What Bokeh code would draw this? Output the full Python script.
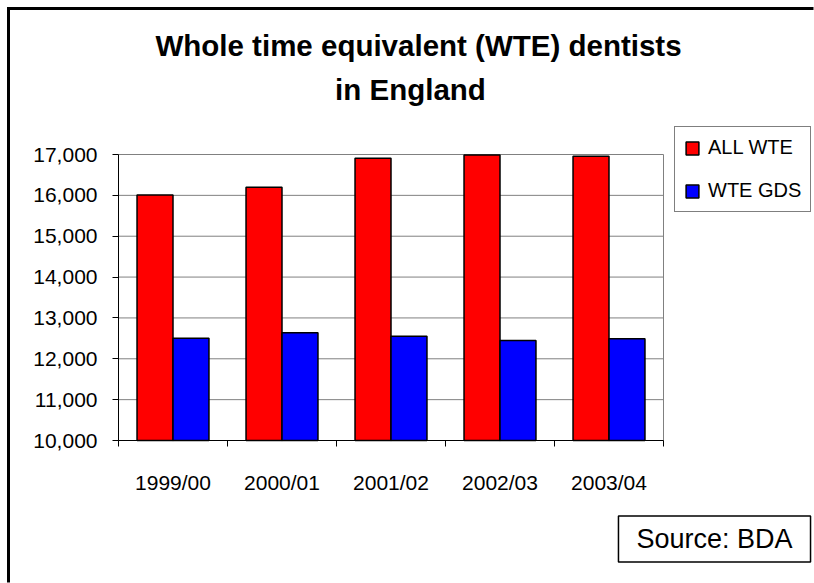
from bokeh.plotting import figure
from bokeh.models import (ColumnDataSource, FixedTicker, NumeralTickFormatter,
                          Legend, LegendItem, Label, Range1d)
from bokeh.embed import file_html
from bokeh.resources import INLINE

categories = ["1999/00", "2000/01", "2001/02", "2002/03", "2003/04"]
all_wte = [16010, 16200, 16910, 16990, 16960]
wte_gds = [12500, 12640, 12550, 12450, 12490]
y_ticks = [10000, 11000, 12000, 13000, 14000, 15000, 16000, 17000]

FONT = "Liberation Sans"
W, H = 814, 583
# plot area on the canvas (pixels)
PL, PR, PT, PB = 118, 663, 154, 440
YMIN, YMAX = 10000, 17000
n = len(categories)
px_x = (PR - PL) / n
px_y = (PB - PT) / (YMAX - YMIN)


def sx(cx):
    """canvas pixel x -> data x"""
    return (cx - PL) / px_x


def sy(cy):
    """canvas pixel y (from top) -> data y"""
    return YMAX + (PT - cy) / px_y


idx = list(range(n))
src = ColumnDataSource(dict(
    x_red=[i + 0.5 - 0.165 for i in idx],
    x_blue=[i + 0.5 + 0.165 for i in idx],
    all_wte=all_wte, wte_gds=wte_gds,
))

p = figure(width=W, height=H, output_backend="svg", toolbar_location=None,
           x_range=Range1d(sx(0), sx(W)), y_range=Range1d(sy(H), sy(0)),
           min_border=0, background_fill_color="white",
           border_fill_color="white", outline_line_color=None)
p.title = None
p.xgrid.grid_line_color = None
p.ygrid.grid_line_color = None

# outer border (left and top edges; right/bottom run off the page)
p.line(x=[sx(8), sx(8), sx(W - 1)], y=[sy(H - 1), sy(8), sy(8)],
       line_color="#000000", line_width=3, line_join="miter")

# gridlines and plot-area edge
p.segment(x0=0, x1=n, y0=y_ticks, y1=y_ticks, line_color="#808080", line_width=1)
p.segment(x0=n, x1=n, y0=YMIN, y1=YMAX, line_color="#808080", line_width=1)

r1 = p.vbar(x="x_red", top="all_wte", bottom=YMIN, width=0.33, source=src,
            fill_color="#ff0000", line_color="black", line_width=1.5)
r2 = p.vbar(x="x_blue", top="wte_gds", bottom=YMIN, width=0.33, source=src,
            fill_color="#0000ff", line_color="black", line_width=1.5)

# y axis
ya = p.yaxis[0]
ya.fixed_location = 0
ya.bounds = (YMIN, YMAX)
ya.ticker = FixedTicker(ticks=y_ticks)
ya.formatter = NumeralTickFormatter(format="0,0")
ya.major_label_text_font = FONT
ya.major_label_text_font_size = "21px"
ya.major_label_text_color = "black"
ya.major_tick_out = 6
ya.major_tick_in = 0
ya.minor_tick_out = 0
ya.minor_tick_in = 0
ya.major_label_standoff = 15
ya.axis_line_color = "black"
ya.major_tick_line_color = "black"

# x axis: labels at centres, ticks at category boundaries
xa = p.xaxis[0]
xa.fixed_location = YMIN
xa.bounds = (0, n)
xa.ticker = FixedTicker(ticks=[i + 0.5 for i in idx],
                        minor_ticks=list(range(n + 1)))
xa.major_label_overrides = {i + 0.5: c for i, c in zip(idx, categories)}
xa.major_label_text_font = FONT
xa.major_label_text_font_size = "21px"
xa.major_label_text_color = "black"
xa.major_tick_out = 0
xa.major_tick_in = 0
xa.minor_tick_out = 6
xa.minor_tick_in = 0
xa.minor_tick_line_color = "black"
xa.major_label_standoff = 24
xa.axis_line_color = "black"

# legend
legend = Legend(items=[LegendItem(label="ALL WTE", renderers=[r1]),
                       LegendItem(label="WTE GDS", renderers=[r2])],
                location=(674, H - 212), orientation="vertical",
                label_text_font=FONT, label_text_font_size="20px",
                label_text_color="black", glyph_width=16, glyph_height=16,
                label_height=20, label_width=89, label_standoff=8,
                spacing=20, padding=9, margin=0,
                border_line_color="black", border_line_width=1,
                background_fill_color="white", background_fill_alpha=1)
p.add_layout(legend, "center")

# title lines
for txt, cx, cy in [("Whole time equivalent (WTE) dentists", 418, 45),
                    ("in England", 410, 89)]:
    p.add_layout(Label(x=cx, y=H - cy, x_units="screen", y_units="screen",
                       text=txt, text_font=FONT, text_font_style="bold",
                       text_font_size="29.5px", text_color="black",
                       text_align="center", text_baseline="alphabetic"))

# source box
p.add_layout(Label(x=714, y=H - 538.5, x_units="screen", y_units="screen",
                   text="Source: BDA", text_font=FONT, text_font_size="27px",
                   text_color="black", text_align="center", text_baseline="middle",
                   background_fill_color="white", border_line_color="black",
                   border_line_width=1.5, padding=(18, 8)))

open("out.html", "w").write(file_html(p, INLINE))
